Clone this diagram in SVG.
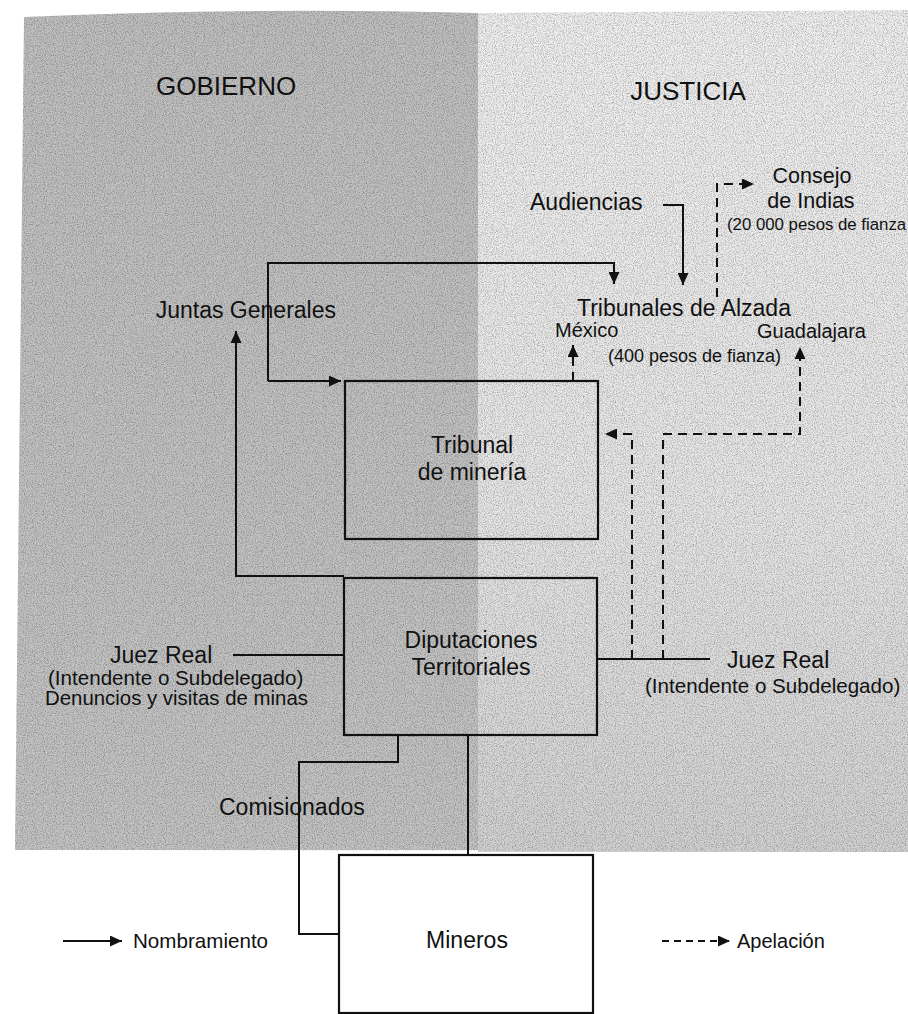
<svg xmlns="http://www.w3.org/2000/svg" width="908" height="1014" viewBox="0 0 908 1014">
<defs>
<style>
text{font-family:"Liberation Sans",Arial,Helvetica,sans-serif;fill:#111;}
.h{font-size:26px;}
.l{font-size:23px;}
.m{font-size:20.6px;}
.s{font-size:18px;}
.box{fill:none;stroke:#111;stroke-width:2.2;}
.solid{fill:none;stroke:#111;stroke-width:2;}
.dash{fill:none;stroke:#111;stroke-width:2;stroke-dasharray:9 6;}
</style>
<marker id="ah" markerUnits="userSpaceOnUse" markerWidth="13" markerHeight="11" refX="12" refY="5.5" orient="auto">
<path d="M0,0 L12,5.5 L0,11 Z" fill="#111"/>
</marker>
<linearGradient id="gR" x1="0" y1="0" x2="0" y2="1">
<stop offset="0" stop-color="#f0f0f0"/>
<stop offset="0.6" stop-color="#e6e6e6"/>
<stop offset="1" stop-color="#d2d2d2"/>
</linearGradient>
<linearGradient id="gL" x1="0" y1="0" x2="0" y2="1">
<stop offset="0" stop-color="#c0c0c0"/>
<stop offset="1" stop-color="#c4c4c4"/>
</linearGradient>
<filter id="grain" x="0" y="0" width="100%" height="100%">
<feTurbulence type="fractalNoise" baseFrequency="0.9" numOctaves="2" seed="4" result="n"/>
<feColorMatrix in="n" type="matrix" values="0 0 0 0 0  0 0 0 0 0  0 0 0 0 0  2.2 0 0 0 -0.9"/>
<feComposite in2="SourceGraphic" operator="in"/>
</filter>
</defs>

<g id="background">
<path d="M24,17 Q250,7 478,13 L478,850 L15,850 Z" fill="url(#gL)"/>
<path d="M478,13 L908,10 L908,852 L478,852 Z" fill="url(#gR)"/>
<path d="M24,17 Q250,7 478,13 L908,10 L908,852 L15,850 Z" fill="#000" filter="url(#grain)" opacity="0.3"/>
</g>

<g id="headers">
<text class="h" x="156" y="95">GOBIERNO</text>
<text class="h" x="688" y="100" text-anchor="middle">JUSTICIA</text>
</g>

<g id="connectors">
<path class="solid" d="M268,381 V263 H614 V284" marker-end="url(#ah)"/>
<path class="solid" d="M268,381 H341" marker-end="url(#ah)"/>
<path class="solid" d="M663,205 H683 V285" marker-end="url(#ah)"/>
<path class="solid" d="M344,576 H236 V331" marker-end="url(#ah)"/>
<path class="solid" d="M233,655 H344"/>
<path class="solid" d="M597,659 H710"/>
<path class="solid" d="M398,736 V762 H299 V934 H339"/>
<path class="solid" d="M468,736 V855"/>
<path class="dash" d="M573,381 V345" marker-end="url(#ah)"/>
<path class="dash" d="M717,297 V184 H754" marker-end="url(#ah)"/>
<path class="dash" d="M632,659 V434 H605" marker-end="url(#ah)"/>
<path class="dash" d="M663,659 V434 H800 V347" marker-end="url(#ah)"/>
</g>

<g id="audiencias"><text class="l" x="530" y="210">Audiencias</text></g>
<g id="consejo">
<text class="l" x="812" y="183" text-anchor="middle" style="font-size:21.5px">Consejo</text>
<text class="l" x="811" y="208" text-anchor="middle" style="font-size:21.5px">de Indias</text>
<text class="s" x="727" y="230" style="font-size:16.8px">(20 000 pesos de fianza</text>
</g>
<g id="tribunales-alzada">
<text class="l" x="577" y="316">Tribunales de Alzada</text>
<text class="m" x="555" y="337" style="font-size:20px">México</text>
<text class="m" x="757" y="338" style="font-size:20px">Guadalajara</text>
<text class="s" x="608" y="362">(400 pesos de fianza)</text>
</g>
<g id="juntas"><text class="l" x="336" y="318" text-anchor="end">Juntas Generales</text></g>
<g id="tribunal-mineria">
<rect class="box" x="345" y="381" width="253" height="158"/>
<text class="l" x="472" y="453" text-anchor="middle">Tribunal</text>
<text class="l" x="472" y="480" text-anchor="middle">de minería</text>
</g>
<g id="diputaciones">
<rect class="box" x="344" y="578" width="253" height="157"/>
<text class="l" x="471" y="648" text-anchor="middle">Diputaciones</text>
<text class="l" x="471" y="675" text-anchor="middle">Territoriales</text>
</g>
<g id="juez-real-gobierno">
<text class="l" x="110" y="663">Juez Real</text>
<text class="m" x="48" y="685">(Intendente o Subdelegado)</text>
<text class="m" x="45" y="705" style="font-size:20.4px">Denuncios y visitas de minas</text>
</g>
<g id="juez-real-justicia">
<text class="l" x="727" y="668">Juez Real</text>
<text class="m" x="645" y="693">(Intendente o Subdelegado)</text>
</g>
<g id="comisionados"><text class="l" x="219" y="815">Comisionados</text></g>
<g id="mineros">
<rect x="339" y="855" width="254" height="158" fill="#fff" stroke="#111" stroke-width="2.2"/>
<text class="l" x="467" y="948" text-anchor="middle">Mineros</text>
</g>
<g id="legend">
<path class="solid" d="M63,941 H122" marker-end="url(#ah)"/>
<text class="m" x="133" y="948">Nombramiento</text>
<path class="dash" d="M662,941 H730" style="stroke-dasharray:7 5" marker-end="url(#ah)"/>
<text class="m" x="737" y="948" style="font-size:20px">Apelación</text>
</g>
</svg>
